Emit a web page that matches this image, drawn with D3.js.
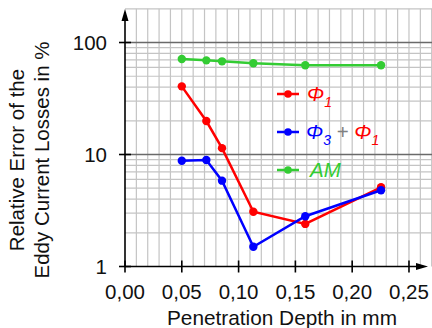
<!DOCTYPE html>
<html><head><meta charset="utf-8">
<script src="https://cdn.jsdelivr.net/npm/d3@7"></script>
<style>body{margin:0;background:#fff}svg{display:block}text{font-family:"Liberation Sans",Arial,sans-serif}</style>
</head><body><svg id="c" width="432" height="328"></svg>
<script>
const depth = [0.05, 0.0716, 0.0854, 0.113, 0.1587, 0.2254];
const phi1 = [40.6, 19.9, 11.4, 3.08, 2.40, 5.1];
const phi3phi1 = [8.8, 8.93, 5.84, 1.50, 2.81, 4.79];
const am = [71.2, 69.3, 67.9, 65.2, 62.6, 62.6];
const xTicks = [0, 0.05, 0.10, 0.15, 0.20, 0.25];
const xTickLabels = ["0,00", "0,05", "0,10", "0,15", "0,20", "0,25"];
const yTicks = [1, 10, 100];
const yTickLabels = ["1", "10", "100"];

const svg = d3.select("#c");
const x = d3.scaleLinear().domain([0, 0.27]).range([125, 431.7]);
const y = d3.scaleLog().domain([1, 200]).range([266.5, 8.8]);

// grid
const vg = d3.range(1, 28).map(i => i / 100);
svg.append("g").selectAll("line").data(vg).join("line")
  .attr("x1", d => x(d)).attr("x2", d => x(d)).attr("y1", y(200)).attr("y2", y(1))
  .attr("stroke", "#c4c4c4").attr("stroke-width", 1.2);
const hMinor = [];
[1, 10, 100].forEach(dec => { for (let k = 2; k <= 9; k++) if (dec * k <= 200) hMinor.push(dec * k); });
svg.append("g").selectAll("line").data(hMinor).join("line")
  .attr("x1", x(0)).attr("x2", 432).attr("y1", d => y(d)).attr("y2", d => y(d))
  .attr("stroke", "#c4c4c4").attr("stroke-width", 1.2);
svg.append("g").selectAll("line").data([10, 100]).join("line")
  .attr("x1", x(0)).attr("x2", 432).attr("y1", d => y(d)).attr("y2", d => y(d))
  .attr("stroke", "#6a6a6a").attr("stroke-width", 1.5);

// axes
const axG = svg.append("g").attr("stroke", "#000").attr("stroke-width", 1.6);
axG.append("line").attr("x1", x(0)).attr("x2", 420).attr("y1", y(1)).attr("y2", y(1));
axG.append("line").attr("x1", x(0)).attr("x2", x(0)).attr("y1", y(1)).attr("y2", 18);
svg.append("path").attr("d", `M${x(0)},9 L${x(0)-3.5},21 L${x(0)+3.5},21 Z`).attr("fill", "#000");
svg.append("path").attr("d", `M428,${y(1)} L416,${y(1)-3.5} L416,${y(1)+3.5} Z`).attr("fill", "#000");
axG.selectAll(".xt").data(xTicks).join("line")
  .attr("x1", d => x(d)).attr("x2", d => x(d)).attr("y1", y(1) - 6).attr("y2", y(1) + 6);
axG.selectAll(".yt").data(yTicks).join("line")
  .attr("x1", x(0) - 6).attr("x2", x(0) + 6).attr("y1", d => y(d)).attr("y2", d => y(d));

svg.append("g").selectAll("text").data(xTicks).join("text")
  .attr("x", d => x(d)).attr("y", 298.5).attr("text-anchor", "middle")
  .attr("font-size", 20.5).attr("fill", "#111").text((d, i) => xTickLabels[i]);
svg.append("g").selectAll("text").data(yTicks).join("text")
  .attr("x", 107).attr("y", d => y(d) + 7.4).attr("text-anchor", "end")
  .attr("font-size", 20.5).attr("fill", "#111").text((d, i) => yTickLabels[i]);

svg.append("text").attr("x", 282).attr("y", 325).attr("text-anchor", "middle")
  .attr("font-size", 20.8).attr("fill", "#111").text("Penetration Depth in mm");
const yt = svg.append("text").attr("transform", "translate(23.5,160) rotate(-90)")
  .attr("text-anchor", "middle").attr("font-size", 20.5).attr("fill", "#111");
yt.append("tspan").attr("x", 0).attr("y", 0).text("Relative Error of the");
yt.append("tspan").attr("x", 0).attr("y", 25).text("Eddy Current Losses in %");

// series
const series = [
  {vals: am, color: "#33cc33"},
  {vals: phi1, color: "#ff0000"},
  {vals: phi3phi1, color: "#0000ff"}
];
const line = d3.line().x(d => x(d[0])).y(d => y(d[1]));
series.forEach(s => {
  const pts = depth.map((d, i) => [d, s.vals[i]]);
  svg.append("path").attr("d", line(pts)).attr("fill", "none")
    .attr("stroke", s.color).attr("stroke-width", 2.5);
  svg.append("g").selectAll("circle").data(pts).join("circle")
    .attr("cx", d => x(d[0])).attr("cy", d => y(d[1])).attr("r", 4.2).attr("fill", s.color);
});

// legend
const leg = [
  {y: 94, color: "#ff0000"},
  {y: 132, color: "#0000ff"},
  {y: 170, color: "#33cc33"}
];
leg.forEach(l => {
  svg.append("line").attr("x1", 277).attr("x2", 299).attr("y1", l.y).attr("y2", l.y)
    .attr("stroke", l.color).attr("stroke-width", 2.5);
  svg.append("circle").attr("cx", 288).attr("cy", l.y).attr("r", 3.8).attr("fill", l.color);
});
const t1 = svg.append("text").attr("x", 307).attr("y", 101).attr("font-size", 20.5)
  .attr("font-style", "italic").attr("fill", "#ff0000");
t1.append("tspan").text("Φ");
t1.append("tspan").attr("font-size", 14).attr("dy", 6).text("1");

const t2 = svg.append("text").attr("x", 306).attr("y", 139).attr("font-size", 20.5).attr("font-style", "italic");
t2.append("tspan").attr("fill", "#0000ff").text("Φ");
t2.append("tspan").attr("fill", "#0000ff").attr("font-size", 14).attr("dy", 6).text("3");
t2.append("tspan").attr("fill", "#808080").attr("font-style", "normal").attr("dy", -6).text(" + ");
t2.append("tspan").attr("fill", "#ff0000").text("Φ");
t2.append("tspan").attr("fill", "#ff0000").attr("font-size", 14).attr("dy", 6).text("1");

svg.append("text").attr("x", 310).attr("y", 177).attr("font-size", 20.5)
  .attr("font-style", "italic").attr("fill", "#33cc33").text("AM");
</script></body></html>
